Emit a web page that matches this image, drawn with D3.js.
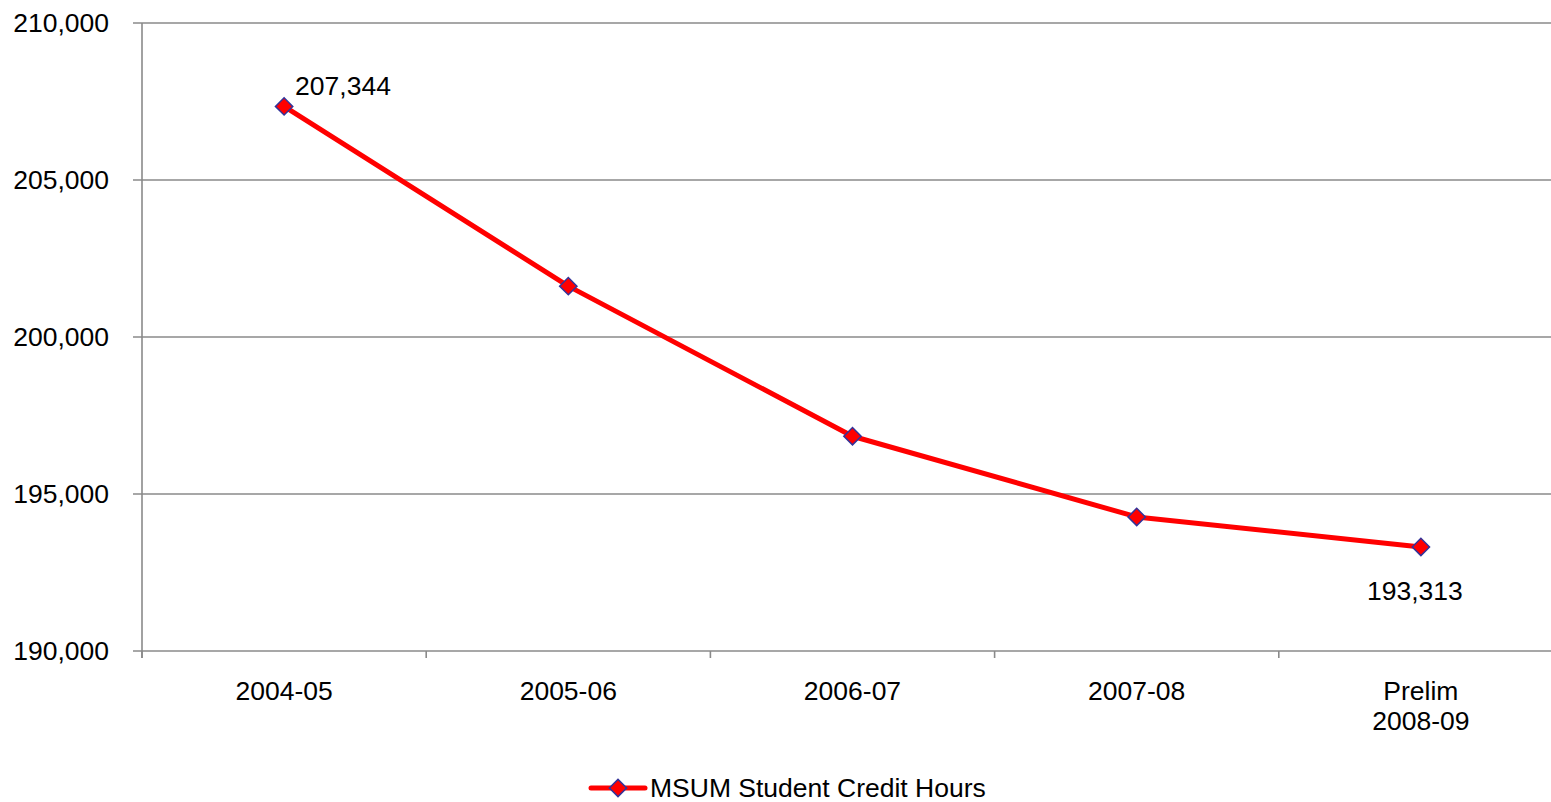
<!DOCTYPE html>
<html><head><meta charset="utf-8">
<script src="https://cdn.jsdelivr.net/npm/d3@7"></script>
<style>
html,body{margin:0;padding:0;background:#fff;}
svg{display:block;font-family:"Liberation Sans",Arial,sans-serif;}
</style></head>
<body>
<svg id="chart" width="1551" height="802"></svg>
<script>
const categories = [["2004-05"],["2005-06"],["2006-07"],["2007-08"],["Prelim","2008-09"]];
const seriesName = "MSUM Student Credit Hours";
const values = [207344, 201620, 196840, 194270, 193313];
const yTicks = [190000, 195000, 200000, 205000, 210000];

(function(){
const svg = d3.select("#chart");
const mLeft = 142, mTop = 23, mBottom = 651, bandW = 284.2;
const mRight = mLeft + bandW * categories.length;
const x = d3.scaleBand().domain(d3.range(categories.length)).range([mLeft, mRight]).padding(0);
const y = d3.scaleLinear().domain([190000, 210000]).range([mBottom, mTop]);
const gridColor = "#8a8a8a";
const fmt = d3.format(",");
const fs = 26.5;

svg.append("g").selectAll("line").data(yTicks).join("line")
  .attr("x1", mLeft - 9).attr("x2", mRight)
  .attr("y1", d => y(d)).attr("y2", d => y(d))
  .attr("stroke", gridColor).attr("stroke-width", 1.6);
svg.append("line").attr("x1", mLeft).attr("x2", mLeft).attr("y1", mTop).attr("y2", mBottom + 7)
  .attr("stroke", gridColor).attr("stroke-width", 1.6);
svg.append("g").selectAll("text").data(yTicks).join("text")
  .attr("x", 109).attr("y", d => y(d)).attr("dy", "0.35em")
  .attr("text-anchor", "end").attr("font-size", fs).attr("fill", "#000")
  .text(d => fmt(d));
svg.append("g").selectAll("line").data(d3.range(categories.length + 1)).join("line")
  .attr("x1", i => mLeft + i * bandW).attr("x2", i => mLeft + i * bandW)
  .attr("y1", mBottom).attr("y2", mBottom + 7)
  .attr("stroke", gridColor).attr("stroke-width", 1.6);
const cx = i => x(i) + x.bandwidth() / 2;
svg.append("g").selectAll("text").data(categories).join("text")
  .attr("text-anchor", "middle").attr("font-size", fs).attr("fill", "#000")
  .each(function(d, i) {
    d3.select(this).selectAll("tspan").data(d).join("tspan")
      .attr("x", cx(i))
      .attr("y", (t, j) => 700 + j * 30)
      .text(t => t);
  });

svg.append("path").datum(values)
  .attr("d", d3.line().x((d, i) => cx(i)).y(d => y(d)))
  .attr("fill", "none").attr("stroke", "#ff0000").attr("stroke-width", 5)
  .attr("stroke-linejoin", "round");
svg.append("g").selectAll("path").data(values).join("path")
  .attr("transform", (d, i) => `translate(${cx(i)},${y(d)}) rotate(45)`)
  .attr("d", d3.symbol().type(d3.symbolSquare).size(150))
  .attr("fill", "#ff0000").attr("stroke", "#333399").attr("stroke-width", 1.5);

svg.append("text").attr("x", cx(0) + 11).attr("y", y(values[0]) - 11)
  .attr("font-size", fs).attr("fill", "#000").text(fmt(values[0]));
svg.append("text").attr("x", cx(4) - 6).attr("y", y(values[4]) + 53)
  .attr("text-anchor", "middle").attr("font-size", fs).attr("fill", "#000").text(fmt(values[4]));

const lg = svg.append("g");
lg.append("line").attr("x1", 591).attr("x2", 645).attr("y1", 788).attr("y2", 788)
  .attr("stroke", "#ff0000").attr("stroke-width", 5).attr("stroke-linecap", "round");
lg.append("path").attr("transform", "translate(618,788) rotate(45)")
  .attr("d", d3.symbol().type(d3.symbolSquare).size(150))
  .attr("fill", "#ff0000").attr("stroke", "#333399").attr("stroke-width", 1.5);
lg.append("text").attr("x", 650).attr("y", 788).attr("dy", "0.35em")
  .attr("font-size", fs).attr("fill", "#000").text(seriesName);
})();
</script>
</body></html>
